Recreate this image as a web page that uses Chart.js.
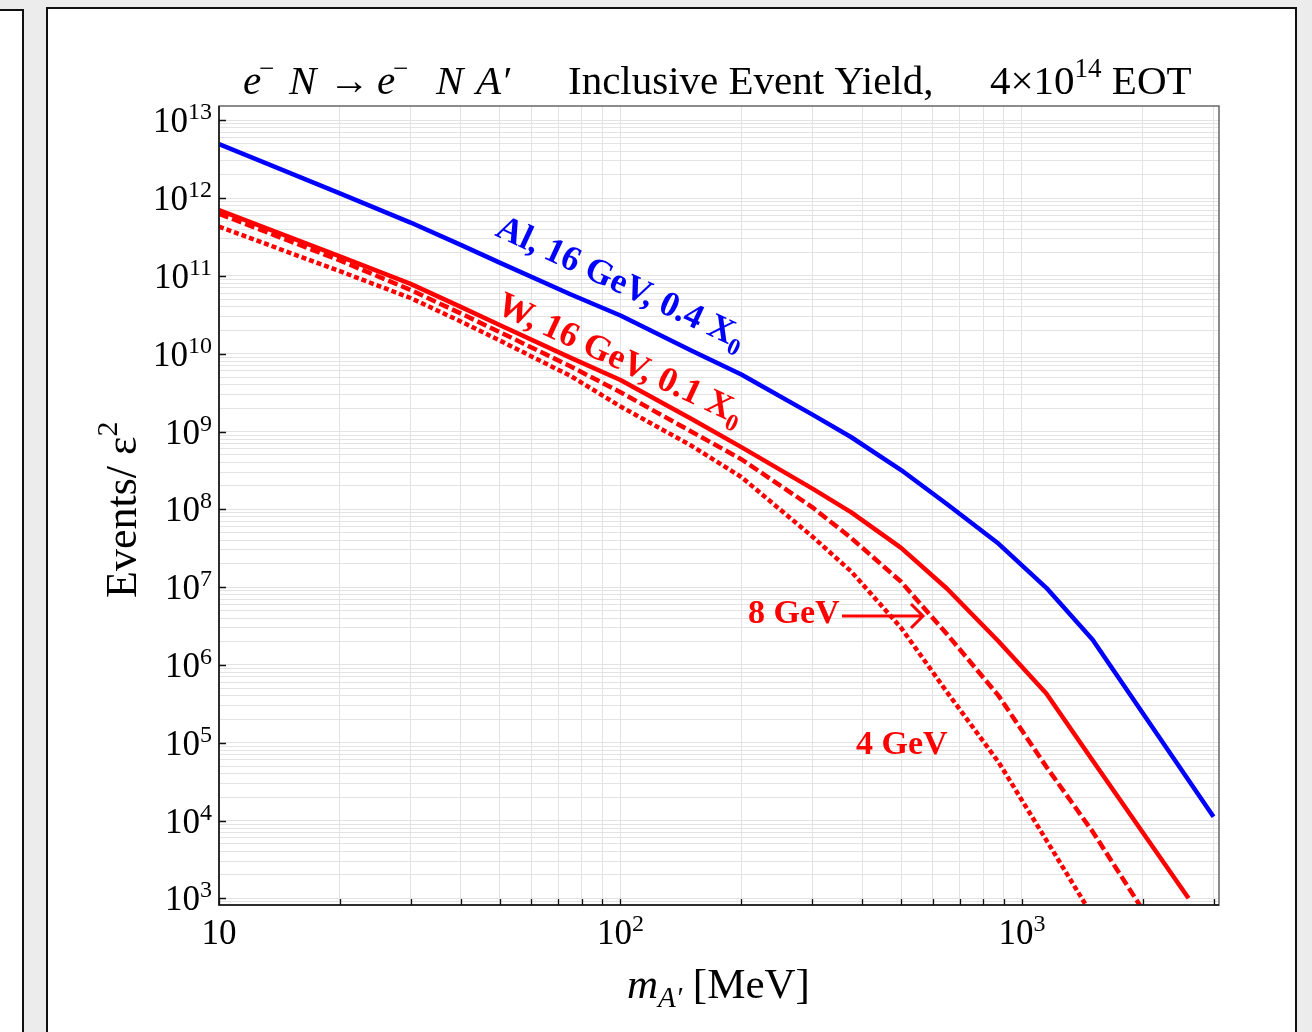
<!DOCTYPE html>
<html>
<head>
<meta charset="utf-8">
<script src="https://cdn.jsdelivr.net/npm/chart.js@4.4.1/dist/chart.umd.min.js"></script>
<style>
  html, body { margin: 0; padding: 0; background: #ececec; width: 1312px; height: 1032px; overflow: hidden; }
  #side { position: absolute; left: -4px; top: 9px; width: 28px; height: 1100px; background: #fff; border: 2px solid #111; box-sizing: border-box; }
  #panel { position: absolute; left: 46px; top: 7px; width: 1251px; height: 1100px; background: #fff; border: 2px solid #111; box-sizing: border-box; }
  #chart { position: absolute; left: 0; top: 0; }
</style>
</head>
<body>
<div id="side"></div>
<div id="panel"></div>
<canvas id="chart" width="1312" height="1032"></canvas>
<script>
// A' mass [MeV] and inclusive yields (events / eps^2)
const massAl = [10, 20, 30, 40, 50, 75, 100, 150, 200, 300, 375, 500, 650, 875, 1150, 1500, 3000];
const yieldAl16 = [4.95e12, 1.15e12, 4.85e11, 2.51e11, 1.48e11, 5.8e10, 3.1e10, 1.1e10, 5.4e9, 1.66e9, 8.5e8, 3.2e8, 1.17e8, 3.6e7, 9.8e6, 2.1e6, 1.12e4];

const massW16 = [10, 20, 30, 40, 50, 75, 100, 150, 200, 300, 375, 500, 650, 875, 1150, 1500, 2600];
const yieldW16 = [7.0e11, 1.78e11, 7.9e10, 4.0e10, 2.34e10, 8.9e9, 4.6e9, 1.46e9, 6.3e8, 1.86e8, 9.2e7, 3.2e7, 9.6e6, 2.0e6, 4.3e5, 5.9e4, 1.0e3];

const massW8 = [10, 20, 30, 40, 50, 75, 100, 150, 200, 300, 375, 500, 650, 875, 1150, 1500, 2000];
const yieldW8 = [6.3e11, 1.58e11, 6.6e10, 3.3e10, 1.9e10, 6.9e9, 3.2e9, 1.0e9, 4.4e8, 1.07e8, 4.3e7, 1.17e7, 2.5e6, 4.0e5, 4.9e4, 7.2e3, 7.1e2];

const massW4 = [10, 20, 30, 40, 50, 75, 100, 150, 200, 300, 375, 500, 650, 875, 1150, 1500];
const yieldW4 = [4.3e11, 1.15e11, 5.2e10, 2.6e10, 1.48e10, 5.2e9, 2.1e9, 6.6e8, 2.6e8, 4.5e7, 1.6e7, 3.0e6, 4.5e5, 5.6e4, 5.6e3, 5.9e2];

const xTickExps = [1, 2, 3];
const yTickExps = [3, 4, 5, 6, 7, 8, 9, 10, 11, 12, 13];

const X_MIN = 10, X_MAX = 3096;
const Y_MIN = Math.pow(10, 2.914), Y_MAX = Math.pow(10, 13.184);

const SERIF = '"Liberation Serif", "DejaVu Serif", serif';
const BLUE = '#0000ff';
const RED = '#ff0000';

const toPoints = (xs, ys) => xs.map((x, i) => ({ x: x, y: ys[i] }));

// 1..9 x 10^n between lo and hi
const gridValues = (lo, hi) => {
  const out = [];
  for (let e = Math.floor(Math.log10(lo)); e <= Math.ceil(Math.log10(hi)); e++) {
    for (let k = 1; k <= 9; k++) {
      const v = k * Math.pow(10, e);
      if (v >= lo * 0.9999 && v <= hi * 1.0001) out.push(v);
    }
  }
  return out;
};

const font = (size, italic, bold) => `${italic ? 'italic ' : ''}${bold ? 'bold ' : ''}${size}px ${SERIF}`;

// draw a list of text runs left to right, returns end x
const drawRuns = (ctx, runs, x, y) => {
  let cx = x;
  runs.forEach((r) => {
    ctx.font = font(r.size, r.italic, r.bold);
    ctx.fillText(r.t, cx, y + (r.dy || 0));
    cx += ctx.measureText(r.t).width;
  });
  return cx;
};
const runsWidth = (ctx, runs) => runs.reduce((w, r) => {
  ctx.font = font(r.size, r.italic, r.bold);
  return w + ctx.measureText(r.t).width;
}, 0);

const powerLabel = (exp) => exp === 1
  ? [{ t: '10', size: 35 }]
  : [{ t: '10', size: 35 }, { t: String(exp), size: 24, dy: -13 }];

const decorations = {
  id: 'decorations',
  afterDraw(chart) {
    const { ctx, chartArea: a, scales } = chart;
    const xs = scales.x, ys = scales.y;
    ctx.save();

    // frame
    ctx.lineWidth = 1.5;
    ctx.strokeStyle = '#666';
    ctx.strokeRect(a.left, a.top, a.right - a.left, a.bottom - a.top);
    ctx.strokeStyle = '#111';
    ctx.beginPath();
    ctx.moveTo(a.left, a.top);
    ctx.lineTo(a.left, a.bottom);
    ctx.lineTo(a.right, a.bottom);
    ctx.stroke();

    // tick marks
    ctx.lineWidth = 1.3;
    ctx.beginPath();
    gridValues(X_MIN, X_MAX).forEach((v) => {
      const px = Math.round(xs.getPixelForValue(v)) + 0.5;
      ctx.moveTo(px, a.bottom);
      ctx.lineTo(px, a.bottom - 6);
    });
    yTickExps.forEach((e) => {
      const py = Math.round(ys.getPixelForValue(Math.pow(10, e))) + 0.5;
      ctx.moveTo(a.left, py);
      ctx.lineTo(a.left + 7, py);
    });
    ctx.stroke();

    // tick labels
    ctx.fillStyle = '#000';
    ctx.textBaseline = 'alphabetic';
    ctx.textAlign = 'left';
    xTickExps.forEach((e) => {
      const px = xs.getPixelForValue(Math.pow(10, e));
      const runs = powerLabel(e);
      drawRuns(ctx, runs, px - runsWidth(ctx, runs) / 2, a.bottom + 39);
    });
    yTickExps.forEach((e) => {
      const py = ys.getPixelForValue(Math.pow(10, e));
      const runs = powerLabel(e);
      drawRuns(ctx, runs, a.left - 7 - runsWidth(ctx, runs), py + 12);
    });

    // title
    const T = 41, TS = 27;
    const tb = 94;
    ctx.font = font(T, true); ctx.fillText('e', 243, tb);
    ctx.font = font(TS); ctx.fillText('\u2212', 259, tb - 17);
    ctx.font = font(T, true); ctx.fillText('N', 289, tb);
    ctx.font = font(T); ctx.fillText('\u2192', 329, tb);
    ctx.font = font(T, true); ctx.fillText('e', 377, tb);
    ctx.font = font(TS); ctx.fillText('\u2212', 393, tb - 17);
    ctx.font = font(T, true); ctx.fillText('N', 436, tb);
    ctx.font = font(T, true); ctx.fillText('A\u2032', 476, tb);
    ctx.font = font(T); ctx.fillText('Inclusive Event Yield,', 568, tb);
    drawRuns(ctx, [
      { t: '4\u00d710', size: T },
      { t: '14', size: TS, dy: -17 },
      { t: ' EOT', size: T }
    ], 990, tb);

    // axis labels
    drawRuns(ctx, [
      { t: 'm', size: 43, italic: true },
      { t: 'A\u2032', size: 29, italic: true, dy: 9 },
      { t: ' [MeV]', size: 43 }
    ], 627, 998);

    ctx.save();
    ctx.translate(136, 598);
    ctx.rotate(-Math.PI / 2);
    drawRuns(ctx, [
      { t: 'Events/ \u03b5', size: 44 },
      { t: '2', size: 30, dy: -19 }
    ], 0, 0);
    ctx.restore();

    // curve annotations
    const ang = 25 * Math.PI / 180;
    ctx.save();
    ctx.fillStyle = BLUE;
    ctx.translate(494, 235);
    ctx.rotate(ang);
    drawRuns(ctx, [
      { t: 'Al, 16 GeV, 0.4 X', size: 35.5, bold: true },
      { t: '0', size: 24, bold: true, dy: 8 }
    ], 0, 0);
    ctx.restore();

    ctx.save();
    ctx.fillStyle = RED;
    ctx.translate(495, 312);
    ctx.rotate(ang);
    drawRuns(ctx, [
      { t: 'W, 16 GeV, 0.1 X', size: 35.5, bold: true },
      { t: '0', size: 24, bold: true, dy: 8 }
    ], 0, 0);
    ctx.restore();

    ctx.fillStyle = RED;
    ctx.font = font(34, false, true);
    ctx.fillText('8 GeV', 748, 623);
    ctx.fillText('4 GeV', 856, 754);

    ctx.strokeStyle = RED;
    ctx.lineWidth = 3;
    ctx.beginPath();
    ctx.moveTo(842, 616);
    ctx.lineTo(922, 616);
    ctx.moveTo(911, 604);
    ctx.lineTo(923, 616);
    ctx.lineTo(911, 628);
    ctx.stroke();

    ctx.restore();
  }
};

const logAxis = (min, max) => ({
  type: 'logarithmic',
  min: min,
  max: max,
  afterBuildTicks: (scale) => {
    scale.ticks = gridValues(min, max).map((v) => ({ value: v }));
  },
  ticks: { display: false },
  grid: { color: '#e3e3e3', lineWidth: 1, drawTicks: false },
  border: { display: false }
});

const line = (xs, ys, color, dash) => ({
  data: toPoints(xs, ys),
  showLine: true,
  borderColor: color,
  borderWidth: 4.5,
  borderDash: dash,
  borderCapStyle: 'butt',
  borderJoinStyle: 'round',
  pointRadius: 0,
  tension: 0
});

new Chart(document.getElementById('chart').getContext('2d'), {
  type: 'scatter',
  data: {
    datasets: [
      line(massAl, yieldAl16, BLUE, []),
      line(massW16, yieldW16, RED, []),
      line(massW8, yieldW8, RED, [10, 4]),
      line(massW4, yieldW4, RED, [5, 3])
    ]
  },
  options: {
    responsive: false,
    animation: false,
    devicePixelRatio: 1,
    layout: { padding: { left: 219, top: 106, right: 93, bottom: 127 } },
    plugins: { legend: { display: false }, tooltip: { enabled: false } },
    scales: {
      x: logAxis(X_MIN, X_MAX),
      y: logAxis(Y_MIN, Y_MAX)
    }
  },
  plugins: [decorations]
});
</script>
</body>
</html>
